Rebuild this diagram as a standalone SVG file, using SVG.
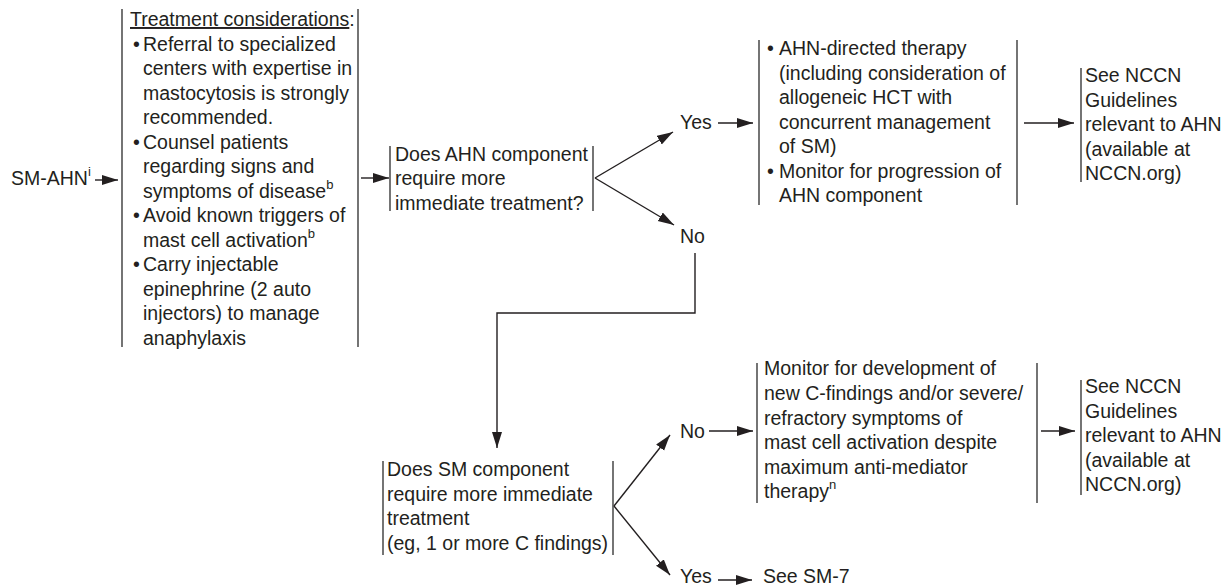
<svg xmlns="http://www.w3.org/2000/svg" width="1224" height="586" viewBox="0 0 1224 586">
<defs>
<style>
text{font-family:"Liberation Sans",Arial,sans-serif;font-size:19.5px;fill:#231f20}
.sup{font-size:13px}
.bar{stroke:#3a3a3a;stroke-width:1.4;fill:none}
.ln{stroke:#231f20;stroke-width:1.4;fill:none}
</style>
<marker id="ah" markerUnits="userSpaceOnUse" markerWidth="17" markerHeight="11" refX="16" refY="5" orient="auto">
<path d="M0,0 L16,5 L0,10 z" fill="#231f20"/>
</marker>
</defs>
<rect width="1224" height="586" fill="#fff"/>

<g id="start">
<text x="11" y="185">SM-AHN<tspan class="sup" dy="-9">i</tspan></text>
</g>

<g id="considerations">
<line class="bar" x1="122" y1="9" x2="122" y2="347"/>
<line class="bar" x1="358" y1="9" x2="358" y2="347"/>
<text x="130" y="26"><tspan text-decoration="underline">Treatment considerations</tspan>:</text>
<text x="133" y="50.5">•</text><text x="143" y="50.5">Referral to specialized</text>
<text x="143" y="75">centers with expertise in</text>
<text x="143" y="99.5">mastocytosis is strongly</text>
<text x="143" y="124">recommended.</text>
<text x="133" y="148.5">•</text><text x="143" y="148.5">Counsel patients</text>
<text x="143" y="173">regarding signs and</text>
<text x="143" y="197.5">symptoms of disease<tspan class="sup" dy="-9">b</tspan></text>
<text x="133" y="222">•</text><text x="143" y="222">Avoid known triggers of</text>
<text x="143" y="246.5">mast cell activation<tspan class="sup" dy="-9">b</tspan></text>
<text x="133" y="271">•</text><text x="143" y="271">Carry injectable</text>
<text x="143" y="295.5">epinephrine (2 auto</text>
<text x="143" y="320">injectors) to manage</text>
<text x="143" y="344.5">anaphylaxis</text>
</g>

<g id="q1">
<line class="bar" x1="390" y1="146" x2="390" y2="211"/>
<line class="bar" x1="593" y1="146" x2="593" y2="211"/>
<text x="395" y="160.5">Does AHN component</text>
<text x="395" y="185">require more</text>
<text x="395" y="209.5">immediate treatment?</text>
</g>

<g id="yes1"><text x="680" y="129">Yes</text></g>
<g id="no1"><text x="680" y="243">No</text></g>

<g id="ahn-therapy">
<line class="bar" x1="759" y1="40" x2="759" y2="205"/>
<line class="bar" x1="1017" y1="40" x2="1017" y2="205"/>
<text x="767" y="55">•</text><text x="779" y="55">AHN-directed therapy</text>
<text x="779" y="79.5">(including consideration of</text>
<text x="779" y="104">allogeneic HCT with</text>
<text x="779" y="128.5">concurrent management</text>
<text x="779" y="153">of SM)</text>
<text x="767" y="177.5">•</text><text x="779" y="177.5">Monitor for progression of</text>
<text x="779" y="202">AHN component</text>
</g>

<g id="nccn1">
<line class="bar" x1="1081" y1="68" x2="1081" y2="182"/>
<text x="1085" y="82">See NCCN</text>
<text x="1085" y="106.5">Guidelines</text>
<text x="1085" y="131">relevant to AHN</text>
<text x="1085" y="155.5">(available at</text>
<text x="1085" y="180">NCCN.org)</text>
</g>

<g id="q2">
<line class="bar" x1="383" y1="461" x2="383" y2="555"/>
<line class="bar" x1="613" y1="461" x2="613" y2="555"/>
<text x="387" y="476">Does SM component</text>
<text x="387" y="500.5">require more immediate</text>
<text x="387" y="525">treatment</text>
<text x="387" y="549.5">(eg, 1 or more C findings)</text>
</g>

<g id="no2"><text x="680" y="438">No</text></g>
<g id="yes2"><text x="680" y="583">Yes</text></g>

<g id="monitor">
<line class="bar" x1="757" y1="363" x2="757" y2="503"/>
<line class="bar" x1="1037" y1="363" x2="1037" y2="503"/>
<text x="764" y="375">Monitor for development of</text>
<text x="764" y="400">new C-findings and/or severe/</text>
<text x="764" y="424.5">refractory symptoms of</text>
<text x="764" y="449">mast cell activation despite</text>
<text x="764" y="473.5">maximum anti-mediator</text>
<text x="764" y="498">therapy<tspan class="sup" dy="-9">n</tspan></text>
</g>

<g id="nccn2">
<line class="bar" x1="1081" y1="380" x2="1081" y2="495"/>
<text x="1085" y="393">See NCCN</text>
<text x="1085" y="417.5">Guidelines</text>
<text x="1085" y="442">relevant to AHN</text>
<text x="1085" y="466.5">(available at</text>
<text x="1085" y="491">NCCN.org)</text>
</g>

<g id="sm7"><text x="763" y="583">See SM-7</text></g>

<g id="connectors">
<line class="ln" x1="95" y1="180" x2="118" y2="180" marker-end="url(#ah)"/>
<line class="ln" x1="361" y1="178" x2="389" y2="178" marker-end="url(#ah)"/>
<line class="ln" x1="595" y1="178" x2="673" y2="132" marker-end="url(#ah)"/>
<line class="ln" x1="595" y1="178" x2="674" y2="225" marker-end="url(#ah)"/>
<line class="ln" x1="718" y1="123" x2="753" y2="123" marker-end="url(#ah)"/>
<line class="ln" x1="1024" y1="123" x2="1074" y2="123" marker-end="url(#ah)"/>
<polyline class="ln" points="695,253 695,313 497,313 497,448" marker-end="url(#ah)"/>
<line class="ln" x1="614" y1="506" x2="670" y2="435" marker-end="url(#ah)"/>
<line class="ln" x1="614" y1="506" x2="670" y2="575" marker-end="url(#ah)"/>
<line class="ln" x1="709" y1="431" x2="753" y2="431" marker-end="url(#ah)"/>
<line class="ln" x1="718" y1="580" x2="752" y2="580" marker-end="url(#ah)"/>
<line class="ln" x1="1041" y1="431" x2="1075" y2="431" marker-end="url(#ah)"/>
</g>
</svg>
